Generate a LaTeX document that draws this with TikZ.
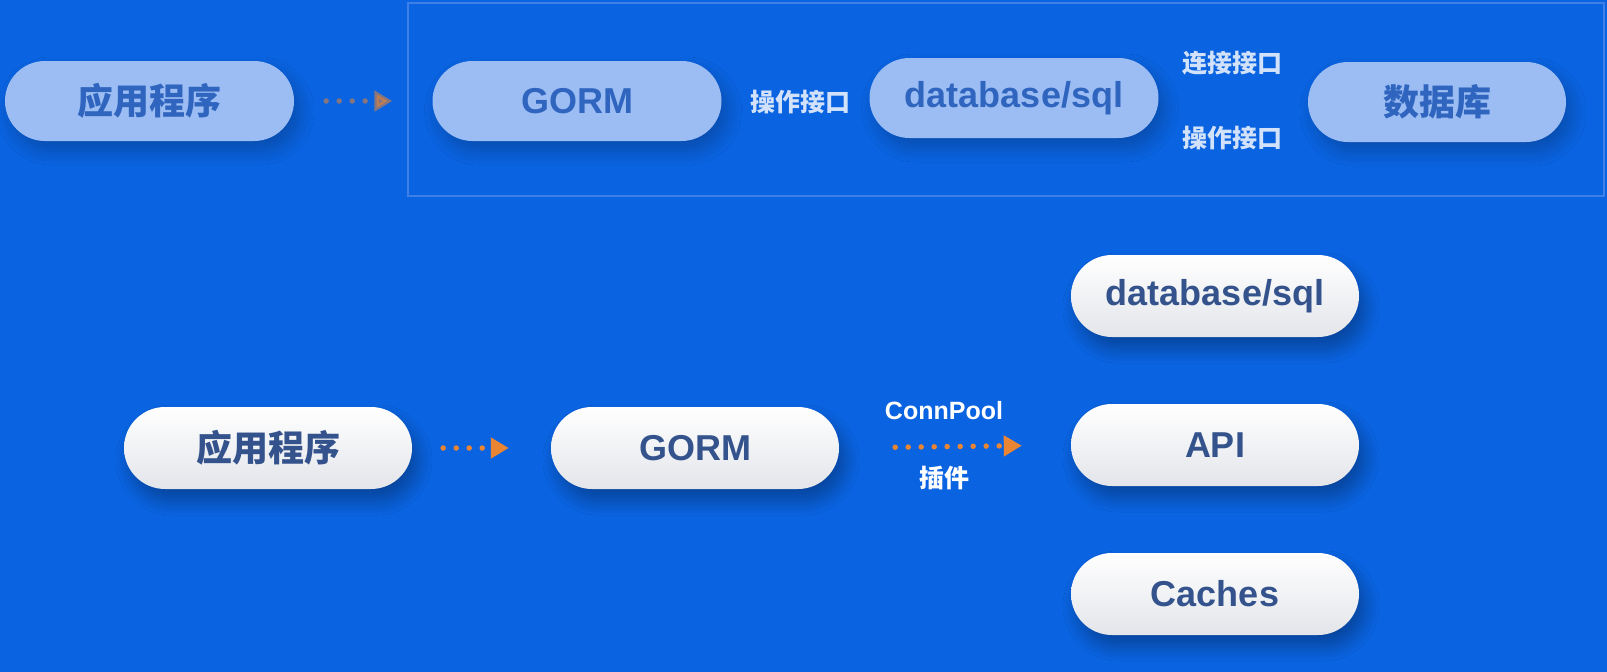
\documentclass[tikz,border=0pt]{standalone}
\usepackage{fontspec}
\setmainfont{Liberation Sans}
\newfontfamily\cjk{Noto Sans CJK SC}
\usetikzlibrary{arrows.meta,shadows.blur}
\definecolor{bg}{HTML}{0A63E0}
\definecolor{topfill}{HTML}{9BBDF3}
\definecolor{toptext}{HTML}{2F65BF}
\definecolor{toplabel}{HTML}{D2E2FB}
\definecolor{frameline}{HTML}{3F80E8}
\definecolor{bottext}{HTML}{34538C}
\definecolor{botgrey}{HTML}{E3E5EA}
\definecolor{arr}{HTML}{EA8533}
\begin{document}
\begin{tikzpicture}[x=1pt,y=-1pt,
  pilltop/.style={rounded corners=40pt, minimum width=289pt, minimum height=80pt,
    fill=topfill, text=toptext, font=\fontsize{36}{40}\selectfont\bfseries,
    blur shadow={shadow xshift=6pt, shadow yshift=-10pt, shadow blur radius=14pt,
      shadow blur steps=12, shadow opacity=22}},
  pillbot/.style={rounded corners=41pt, minimum width=288pt, minimum height=82pt,
    top color=white, bottom color=botgrey, draw=none, text=bottext,
    font=\fontsize{36}{40}\selectfont\bfseries,
    blur shadow={shadow xshift=6pt, shadow yshift=-12pt, shadow blur radius=14pt,
      shadow blur steps=12, shadow opacity=30}},
  toplab/.style={text=toplabel, font=\fontsize{25}{28}\selectfont\bfseries},
  botlab/.style={text=white, font=\fontsize{25}{28}\selectfont\bfseries},
  dotarrow/.style={line width=5.5pt, line cap=round, dash pattern=on 0pt off 13pt,
    -{Triangle[length=18pt,width=20pt]}},
]
\fill[bg] (0,0) rectangle (1607,672);
\useasboundingbox (0,0) rectangle (1607,672);

% top frame
\draw[frameline, line width=2.5pt] (408,3) rectangle (1604,196);

% top row
\node[pilltop] (app1) at (149.5,101) {\cjk 应用程序};
\node[pilltop] (gorm1) at (577,101) {GORM};
\node[pilltop] (db1) at (1014,98) {database/sql};
\node[pilltop, minimum width=258pt] (dbk) at (1437,102) {\cjk 数据库};
\node[toplab] (op1) at (800,102) {\cjk 操作接口};
\node[toplab] (conn1) at (1232,63) {\cjk 连接接口};
\node[toplab] (op2) at (1232,138) {\cjk 操作接口};
\draw[dotarrow, arr, draw opacity=0.55, fill opacity=0.55, shorten <=32pt, shorten >=40pt] (app1.east) -- (gorm1.west);

% bottom row
\node[pillbot] (app2) at (268,448) {\cjk 应用程序};
\node[pillbot] (gorm2) at (695,448) {GORM};
\node[pillbot] (dbsql) at (1215,296) {database/sql};
\node[pillbot] (api) at (1215,445) {API};
\node[pillbot] (caches) at (1215,594) {Caches};
\node[botlab] (cp) at (944,411) {ConnPool};
\node[botlab] (plug) at (944,478) {\cjk 插件};
\draw[dotarrow, arr, shorten <=31pt, shorten >=42pt] (app2.east) -- (gorm2.west);
\draw[dotarrow, arr, shorten <=56pt, shorten >=49pt] (gorm2.east) -- (api.west);
\end{tikzpicture}
\end{document}
